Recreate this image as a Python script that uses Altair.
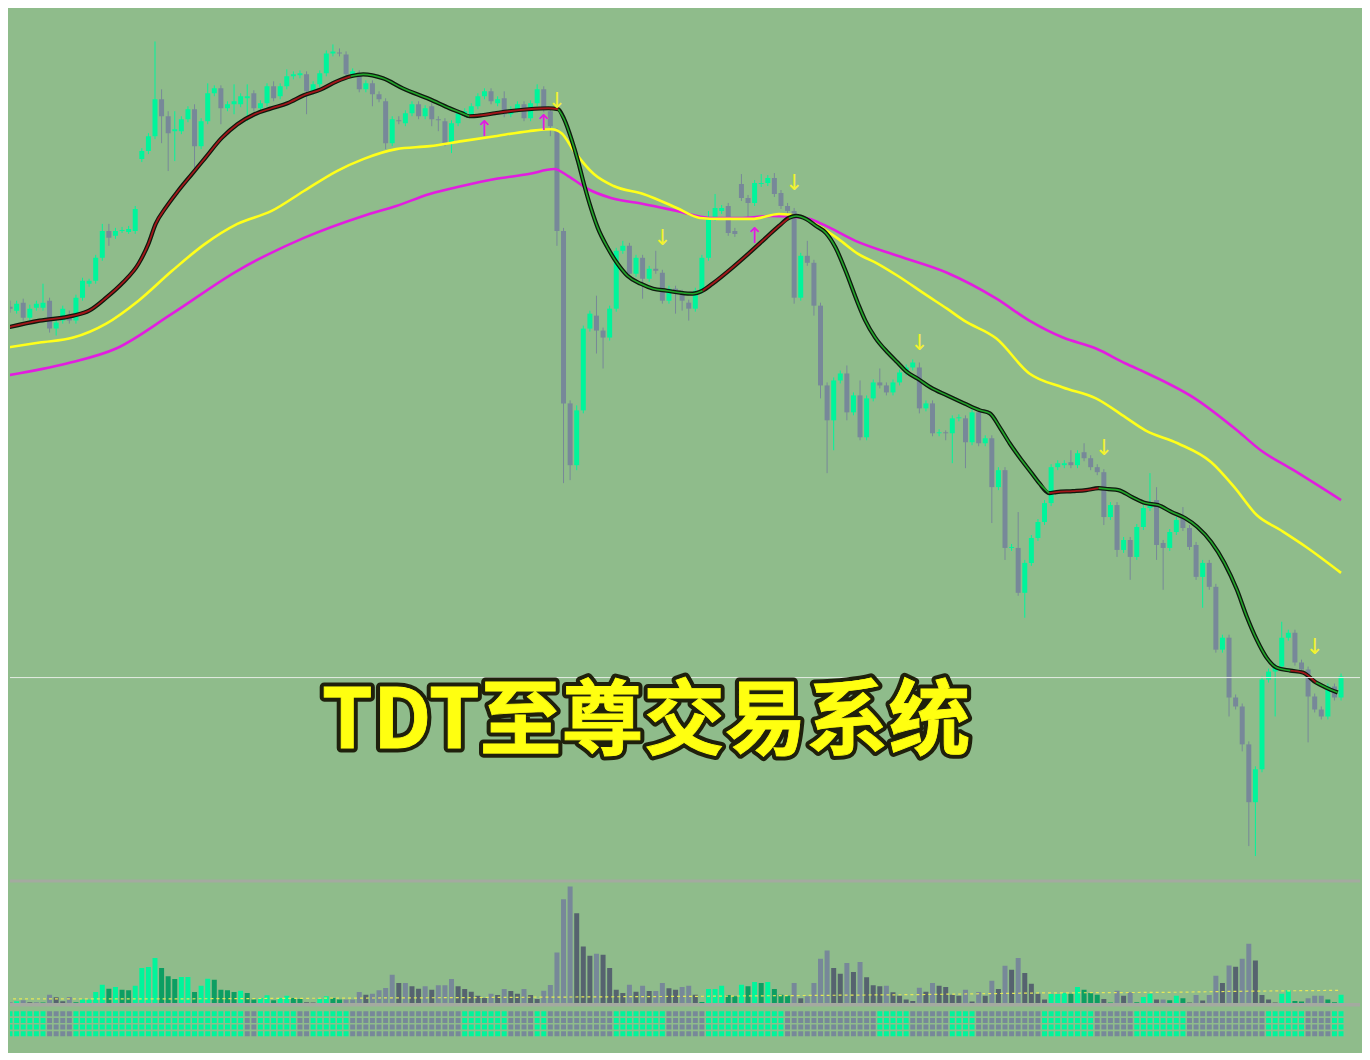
import altair as alt
import pandas as pd

# ---------------- data ----------------
OPEN = [594, 590, 598, 583, 593, 593, 600, 572, 580, 585,
        580, 603, 617, 620, 643, 670, 665, 670, 669, 670,
        742, 750, 765, 802, 785, 770, 770, 782, 792, 755,
        780, 808, 813, 793, 797, 797, 803, 808, 793, 798,
        815, 805, 815, 825, 826, 827, 810, 817, 828, 848,
        849, 847, 827, 828, 812, 818, 807, 800, 758, 781,
        778, 788, 797, 785, 795, 782, 780, 758, 778, 787,
        787, 795, 805, 810, 798, 803, 787, 792, 797, 783,
        798, 812, 790, 770, 670, 497, 435, 490, 572, 585,
        570, 563, 592, 650, 655, 627, 643, 622, 632, 628,
        600, 612, 608, 598, 592, 610, 643, 683, 690, 695,
        670, 717, 703, 698, 717, 718, 723, 708, 695, 690,
        603, 645, 638, 595, 515, 480, 520, 527, 488, 505,
        463, 502, 518, 515, 508, 518, 528, 533, 533, 492,
        497, 467, 468, 467, 482, 482, 458, 488, 457, 462,
        413, 430, 352, 352, 307, 337, 362, 378, 397, 433,
        435, 438, 435, 448, 442, 433, 428, 383, 395, 350,
        360, 343, 373, 392, 400, 357, 352, 368, 382, 372,
        355, 323, 337, 313, 250, 262, 202, 193, 155, 97,
        130, 220, 228, 233, 262, 267, 237, 230, 203, 190,
        183, 213, 202]
CLOSE = [592, 597, 583, 592, 597, 598, 572, 578, 592, 580,
         603, 620, 620, 643, 670, 663, 670, 671, 672, 692,
         750, 765, 802, 785, 768, 772, 782, 792, 755, 780,
         808, 813, 793, 797, 800, 805, 805, 793, 798, 815,
         803, 815, 825, 827, 828, 810, 817, 828, 848, 850,
         848, 827, 830, 812, 818, 807, 802, 758, 782, 780,
         788, 797, 785, 793, 782, 781, 758, 778, 788, 790,
         795, 805, 810, 800, 802, 787, 792, 797, 783, 798,
         812, 792, 775, 670, 497, 435, 490, 572, 587, 570,
         563, 592, 650, 655, 627, 643, 622, 632, 630, 600,
         612, 608, 600, 592, 610, 643, 683, 693, 693, 668,
         667, 703, 698, 718, 718, 723, 707, 695, 690, 603,
         645, 638, 595, 515, 480, 520, 527, 488, 505, 463,
         502, 518, 515, 508, 518, 528, 533, 538, 492, 497,
         467, 468, 467, 482, 483, 458, 488, 457, 462, 413,
         430, 352, 353, 307, 337, 362, 378, 397, 433, 437,
         437, 435, 447, 442, 433, 428, 383, 395, 350, 360,
         343, 373, 392, 398, 355, 352, 368, 380, 372, 353,
         323, 337, 313, 250, 262, 202, 193, 155, 97, 130,
         220, 228, 233, 262, 267, 237, 230, 203, 190, 183,
         213, 202, 223]
HIGH = [600, 600, 602, 596, 600, 617, 603, 581, 595, 590,
        606, 623, 622, 646, 677, 677, 673, 674, 675, 695,
        753, 768, 860, 812, 790, 790, 785, 795, 797, 783,
        818, 816, 816, 800, 817, 808, 817, 811, 801, 818,
        820, 818, 832, 830, 831, 830, 820, 831, 851, 857,
        853, 850, 833, 831, 821, 821, 810, 803, 785, 785,
        791, 800, 800, 796, 798, 785, 783, 781, 791, 793,
        798, 808, 813, 813, 805, 810, 795, 800, 800, 801,
        817, 815, 793, 773, 673, 500, 495, 575, 590, 605,
        573, 595, 653, 660, 658, 646, 646, 635, 650, 631,
        615, 615, 611, 601, 613, 646, 690, 707, 696, 698,
        673, 727, 706, 721, 727, 726, 728, 711, 698, 693,
        648, 660, 641, 598, 518, 523, 530, 535, 508, 520,
        505, 521, 532, 518, 521, 531, 536, 541, 538, 500,
        500, 471, 470, 485, 486, 485, 491, 491, 465, 465,
        433, 433, 356, 388, 340, 365, 381, 400, 436, 440,
        440, 450, 450, 457, 445, 436, 431, 398, 398, 363,
        363, 376, 395, 427, 413, 360, 371, 383, 393, 375,
        358, 340, 340, 316, 265, 265, 205, 196, 158, 133,
        223, 231, 236, 278, 270, 270, 240, 233, 206, 193,
        216, 216, 226]
LOW = [588, 587, 580, 580, 590, 590, 568, 565, 577, 577,
       577, 600, 614, 617, 640, 655, 662, 668, 667, 667,
       739, 747, 762, 758, 730, 740, 767, 779, 727, 752,
       777, 805, 777, 790, 787, 794, 780, 790, 790, 795,
       800, 802, 812, 822, 823, 787, 807, 814, 825, 845,
       845, 824, 824, 809, 809, 795, 799, 752, 755, 777,
       775, 785, 782, 782, 775, 770, 755, 748, 775, 784,
       784, 792, 802, 797, 795, 784, 784, 789, 780, 780,
       795, 789, 765, 655, 417, 420, 430, 487, 569, 547,
       532, 560, 589, 647, 624, 624, 602, 619, 627, 597,
       597, 587, 590, 580, 589, 607, 640, 680, 687, 665,
       664, 700, 683, 695, 714, 715, 704, 692, 687, 597,
       600, 635, 585, 502, 427, 450, 517, 480, 485, 460,
       460, 499, 512, 505, 505, 515, 525, 530, 487, 489,
       464, 464, 460, 437, 479, 432, 455, 454, 454, 377,
       410, 340, 349, 304, 282, 334, 359, 375, 394, 430,
       432, 432, 432, 439, 430, 425, 375, 380, 343, 347,
       320, 340, 370, 389, 340, 310, 349, 365, 369, 350,
       320, 292, 310, 247, 247, 183, 190, 148, 53, 43,
       127, 217, 183, 230, 259, 234, 227, 157, 187, 180,
       180, 199, 199]

VOLUME = [2, 5, 8, 2, 2, 1, 25, 17, 5, 18,
          2, 10, 10, 33, 55, 43, 48, 40, 38, 52,
          105, 108, 135, 105, 80, 72, 78, 78, 33, 52,
          73, 70, 40, 38, 33, 37, 30, 10, 15, 23,
          8, 15, 22, 15, 12, 2, 1, 12, 20, 15,
          10, 10, 10, 33, 25, 28, 38, 45, 85, 60,
          60, 50, 43, 50, 40, 53, 53, 72, 50,
          42, 34, 22, 15, 28, 24, 42, 36, 28,
          42, 24, 12, 37, 54, 152, 312, 350, 270, 170,
          142, 148, 145, 105, 40, 30, 55, 34, 52, 36,
          36, 60, 44, 40, 48, 52, 25, 3, 42, 42,
          52, 24, 20, 55, 50, 63, 60, 63, 42, 25,
          22, 60, 14, 20, 60, 133, 158, 105, 88, 120,
          93, 123, 77, 53, 50, 52, 32, 22, 10, 6,
          46, 34, 60, 52, 48, 25, 22, 40, 4, 33,
          22, 67, 42, 112, 100, 135, 90, 58, 28, 10,
          27, 27, 30, 28, 48, 40, 30, 25, 12, 1,
          37, 22, 32, 2, 18, 28, 10, 10, 8, 22,
          14, 1, 24, 7, 24, 82, 60, 113, 109, 133,
          178, 128, 24, 10, 1, 28, 38, 6, 4, 14,
          22, 22, 10, 2, 25]
# volume colour state (1 = green, 0 = grey) as runs (state, count)
VOL_STATE_RUNS = [(0, 1), (1, 1), (0, 3), (1, 1), (0, 4), (1, 35), (0, 2), (1, 4),
                  (0, 54), (1, 14), (0, 39), (1, 8), (0, 1), (1, 1), (0, 3), (1, 3),
                  (0, 2), (1, 3), (0, 14), (1, 4), (0, 3), (1, 3)]
# bottom tile strip state (1 = green, 0 = grey) as runs
TILE_RUNS = [(1, 6), (0, 4), (1, 26), (0, 2), (1, 6), (0, 2), (1, 6), (0, 17),
             (1, 7), (0, 4), (1, 2), (0, 10), (1, 8), (0, 6), (1, 12), (0, 14),
             (1, 5), (0, 6), (1, 4), (0, 10), (1, 8), (0, 6), (1, 8), (0, 12),
             (1, 6), (0, 4), (1, 2)]
TILE_ROWS = [0, 1, 2, 3]

# average-volume dashed line (bar index, volume)
AVGVOL_I = [-0.45, 22.1, 68.6, 104.7, 137.4, 156.2, 176.3, 186.2, 201.9]
AVGVOL_V = [12, 12, 16, 20, 25, 30, 32, 35, 38]

# fast MA (bar index, price) and colour state of the segment starting there (1 = red)
FAST_I = [-0.45, 4.5, 9.6, 12.0, 14.6, 17.1, 19.5, 21.0, 22.1, 23.6, 25.5, 27.6, 29.6, 32.1,
          34.5, 37.1, 39.7, 42.1, 44.6, 47.2, 49.6, 51.7, 53.6, 56.6, 59.6, 63.7, 66.7, 68.6,
          69.7, 71.6, 73.6, 75.7, 78.7, 81.7, 83.2, 84.1, 85.2, 86.2, 87.1, 88.2, 89.2, 90.7,
          92.2, 93.7, 95.7, 97.6, 99.7, 101.7, 103.6, 105.1, 106.6, 109.6, 112.2, 114.7, 116.7,
          118.2, 119.3, 120.8, 122.3, 123.8, 125.3, 126.8, 128.7, 129.8, 131.3, 133.2, 134.7,
          136.2, 137.7, 139.7, 142.2, 144.8, 147.2, 148.7, 150.2, 151.7, 153.2, 154.7, 156.2,
          157.7, 158.8, 161.3, 163.3, 165.2, 166.7, 168.2, 170.3, 172.3, 174.2, 176.3, 178.3,
          180.2, 182.3, 184.3, 186.2, 187.7, 189.2, 190.7, 192.2, 194.3, 196.2, 198.2, 199.7,
          201.5]
FAST_V = [573, 580, 585, 590, 603, 618, 637, 657, 677, 693, 710, 727, 743, 763,
          777, 787, 793, 798, 806, 812, 820, 825, 827, 823, 813, 802, 793, 788,
          785, 786, 788, 790, 792, 793, 792, 782, 762, 740, 717, 692, 673, 653,
          637, 625, 617, 612, 610, 608, 607, 610, 617, 633, 648, 663, 675,
          683, 685, 682, 675, 668, 653, 630, 597, 580, 563, 548, 538,
          528, 522, 513, 505, 497, 490, 487, 473, 457, 443, 430, 417,
          407, 408, 409, 410, 412, 411, 410, 403, 397, 395, 388, 382,
          373, 358, 337, 310, 283, 260, 242, 232, 229, 227, 217, 212,
          207]
FAST_RED = [1] * 21 + [0] * 7 + [1] * 6 + [0] * 15 + [1] * 6 + [0] * 24 + [1] * 4 \
    + [0] * 16 + [1] * 2 + [0] * 4

YELLOW_I = [-0.45, 4.5, 9.6, 14.6, 19.5, 24.6, 29.6, 34.5, 39.7, 44.6, 49.6, 53.6, 58.6,
            63.7, 68.6, 73.6, 78.7, 82.2, 83.7, 85.6, 88.6, 91.6, 96.1, 101.2, 104.7,
            107.7, 112.6, 116.7, 119.7, 122.7, 125.7, 128.7, 131.7, 134.7, 139.2, 142.2,
            144.8, 149.7, 154.7, 159.8, 164.8, 169.3, 172.3, 177.2, 182.3, 185.8, 189.2,
            192.8, 196.7, 202.0]
YELLOW_V = [553, 558, 563, 577, 600, 630, 657, 677, 690, 710, 730, 742, 752,
            755, 760, 765, 770, 772, 768, 750, 727, 715, 707, 693, 683,
            682, 682, 687, 685, 675, 662, 647, 637, 625, 605, 592,
            580, 562, 527, 513, 502, 483, 470, 457, 438, 413, 385,
            370, 353, 327]

MAGENTA_I = [-0.45, 8.6, 16.1, 24.6, 34.5, 44.6, 53.6, 58.6, 63.7, 68.6, 73.6, 78.7,
             82.6, 84.7, 87.7, 91.2, 96.1, 101.2, 106.2, 110.7, 115.7, 120.8, 123.2,
             128.3, 134.7, 142.2, 149.7, 154.7, 159.8, 164.8, 169.3, 172.3, 179.8,
             186.2, 189.8, 194.8, 202.0]
MAGENTA_V = [525, 537, 552, 587, 630, 663, 685, 695, 707, 715, 722, 727,
             732, 725, 712, 703, 697, 690, 683, 683, 685, 683, 677,
             660, 645, 628, 602, 580, 563, 552, 537, 528, 502,
             470, 450, 430, 400]

SELL_I = [83, 99, 119, 138, 166, 198]
SELL_P = [800, 663, 718, 558, 452, 253]
BUY_I = [72, 81, 113]
BUY_P = [772, 778, 665]

PRICE_LINE = [222]
TITLE = ["TDT至尊交易系统"]

# ---------------- styling ----------------
BG = "#8FBC8B"
UP = "#00F59B"
DOWN = "#778899"
W = 1354
H_PRICE = 872
H_VOL = 172
X_DOMAIN = [0.75, 204.12]
P_DOMAIN = [20, 892]
V_DOMAIN = [-146, 370]

N = len(OPEN)
candles = pd.DataFrame({"i": list(range(N)), "open": OPEN, "high": HIGH,
                        "low": LOW, "close": CLOSE})
candles["dir"] = ["up" if c >= o else "down" for o, c in zip(OPEN, CLOSE)]

xs = alt.Scale(domain=X_DOMAIN, nice=False, zero=False)
ps = alt.Scale(domain=P_DOMAIN, nice=False, zero=False)
X = alt.X("i:Q", scale=xs, axis=None)

cdir = alt.Color("dir:N", scale=alt.Scale(domain=["up", "down"], range=[UP, DOWN]),
                 legend=None)
cbase = alt.Chart(candles)
wicks = cbase.mark_rule(strokeWidth=1, clip=True).encode(
    x=X, y=alt.Y("low:Q", scale=ps, axis=None), y2="high:Q", color=cdir)
bodies = cbase.mark_bar(size=5, clip=True).encode(
    x=X, y=alt.Y("open:Q", scale=ps, axis=None), y2="close:Q", color=cdir)


def line_df(ix, vals):
    return pd.DataFrame({"i": ix, "v": vals})


def runs_df(ix, vals, flags):
    out = []
    run = 0
    start = 0
    n = len(ix)
    for k in range(1, n):
        if k == n - 1 or flags[k] != flags[start]:
            for j in range(start, k + 1):
                out.append({"i": ix[j], "v": vals[j], "run": run, "red": flags[start]})
            run += 1
            start = k
    return pd.DataFrame(out)


Yp = alt.Y("v:Q", scale=ps, axis=None)

magenta = alt.Chart(line_df(MAGENTA_I, MAGENTA_V)).mark_line(
    color="#E21DE0", strokeWidth=2.6, interpolate="monotone", clip=True).encode(x=X, y=Yp)
yellow = alt.Chart(line_df(YELLOW_I, YELLOW_V)).mark_line(
    color="#FFFF1A", strokeWidth=2.6, interpolate="monotone", clip=True).encode(x=X, y=Yp)
fast_outline = alt.Chart(line_df(FAST_I, FAST_V)).mark_line(
    color="#0E1A0E", strokeWidth=4.2, interpolate="monotone", clip=True).encode(x=X, y=Yp)
fr = runs_df(FAST_I, FAST_V, FAST_RED)
fast_red = alt.Chart(fr[fr["red"] == 1]).mark_line(
    color="#A3161A", strokeWidth=1.8, interpolate="monotone", clip=True).encode(
    x=X, y=Yp, detail="run:N")
fast_green = alt.Chart(fr[fr["red"] == 0]).mark_line(
    color="#22A52A", strokeWidth=1.6, interpolate="monotone", clip=True).encode(
    x=X, y=Yp, detail="run:N")

price_line = alt.Chart(pd.DataFrame({"p": PRICE_LINE})).mark_rule(
    color="#E4ECE4", strokeWidth=1).encode(y=alt.Y("p:Q", scale=ps, axis=None))

sell = alt.Chart(pd.DataFrame({"i": SELL_I, "v": SELL_P, "t": ["↓"] * len(SELL_I)})).mark_text(
    color="#F2F230", fontSize=22, font="DejaVu Sans", baseline="middle").encode(
    x=X, y=Yp, text="t:N")
buy = alt.Chart(pd.DataFrame({"i": BUY_I, "v": BUY_P, "t": ["↑"] * len(BUY_I)})).mark_text(
    color="#E01EE0", fontSize=22, font="DejaVu Sans", baseline="middle").encode(
    x=X, y=Yp, text="t:N")

tdf = pd.DataFrame({"t": TITLE})
TITLE_SIZE = 82
title_outline = alt.Chart(tdf).mark_text(
    font="Noto Sans CJK SC", fontSize=TITLE_SIZE, fontWeight="bold", fill="#1F200C",
    stroke="#1F200C", strokeWidth=9, strokeJoin="round", baseline="middle",
    align="center").encode(text="t:N", x=alt.value(638), y=alt.value(716))
title_fill = alt.Chart(tdf).mark_text(
    font="Noto Sans CJK SC", fontSize=TITLE_SIZE, fontWeight="bold", fill="#FFFF10",
    stroke="#FFFF10", strokeWidth=0.8, baseline="middle",
    align="center").encode(text="t:N", x=alt.value(638), y=alt.value(716))

price_panel = alt.layer(
    wicks, bodies, magenta, yellow, fast_outline, fast_red, fast_green,
    price_line, sell, buy, title_outline, title_fill
).properties(width=W, height=H_PRICE)

# ---------------- volume panel ----------------
vol_state = []
for s, c in VOL_STATE_RUNS:
    vol_state += [s] * c
tile_state = []
for s, c in TILE_RUNS:
    tile_state += [s] * c

vcat = []
for k, v in enumerate(VOLUME):
    light = k == 0 or v >= VOLUME[k - 1]
    vcat.append(("vg" if vol_state[k] else "vr") + ("" if light else "d"))
vol_df = pd.DataFrame({"i": list(range(len(VOLUME))), "vol": VOLUME, "cat": vcat})

tiles = []
for k, s in enumerate(tile_state):
    for r in TILE_ROWS:
        tiles.append({"x0": k - 0.375, "x1": k + 0.375, "r0": r, "r1": r + 0.75,
                      "cat": "tg" if s else "tr"})
tile_df = pd.DataFrame(tiles)

cat_scale = alt.Scale(domain=["vg", "vgd", "vr", "vrd", "tg", "tr"],
                      range=[UP, "#0C9E62", DOWN, "#56636F", UP, DOWN])
vs = alt.Scale(domain=V_DOMAIN, nice=False, zero=False)

vol_bars = alt.Chart(vol_df).mark_bar(size=5, clip=True).encode(
    x=X, y=alt.Y("vol:Q", scale=vs, axis=None), y2=alt.datum(0),
    color=alt.Color("cat:N", scale=cat_scale, legend=None))
avg_line = alt.Chart(pd.DataFrame({"i": AVGVOL_I, "vol": AVGVOL_V})).mark_line(
    color="#E6E85A", strokeWidth=1.2, strokeDash=[3, 3], clip=True).encode(
    x=X, y=alt.Y("vol:Q", scale=vs, axis=None))
sep_df = pd.DataFrame({"vol": [367, -5.5], "w": ["top", "mid"]})
sep_top = alt.Chart(sep_df[sep_df["w"] == "top"]).mark_rule(
    color="#A4AAA0", strokeWidth=3).encode(y=alt.Y("vol:Q", scale=vs, axis=None))
sep_mid = alt.Chart(sep_df[sep_df["w"] == "mid"]).mark_rule(
    color="#A4AAA0", strokeWidth=3.7).encode(y=alt.Y("vol:Q", scale=vs, axis=None))

ts = alt.Scale(domain=[-19.75, 6.04], nice=False, zero=False, reverse=True)
tile_marks = alt.Chart(tile_df).mark_rect(clip=True).encode(
    x=alt.X("x0:Q", scale=xs, axis=None), x2="x1:Q",
    y=alt.Y("r0:Q", scale=ts, axis=None), y2="r1:Q",
    color=alt.Color("cat:N", scale=cat_scale, legend=None))

vol_panel = alt.layer(
    alt.layer(sep_top, sep_mid, vol_bars, avg_line),
    tile_marks
).resolve_scale(y="independent").properties(width=W, height=H_VOL)

chart = alt.vconcat(price_panel, vol_panel, spacing=0).resolve_scale(
    color="independent"
).properties(
    padding=0, background=BG
).configure_view(strokeWidth=0).configure_concat(spacing=0)

chart.save("out.html", embed_options={"renderer": "svg", "actions": False})
